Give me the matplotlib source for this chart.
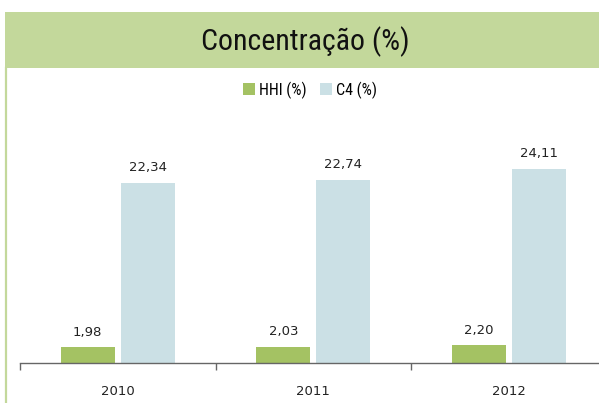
import matplotlib
matplotlib.use("Agg")
import matplotlib.pyplot as plt
from matplotlib.patches import Rectangle
from matplotlib.lines import Line2D

years = ["2010", "2011", "2012"]
hhi = [1.98, 2.03, 2.20]
c4 = [22.34, 22.74, 24.11]
hhi_labels = ["1,98", "2,03", "2,20"]
c4_labels = ["22,34", "22,74", "24,11"]

W, H = 599, 403
fig = plt.figure(figsize=(W / 100, H / 100), dpi=100)

cond = ["Roboto Condensed", "DejaVu Sans"]

# title band
fig.patches.append(Rectangle((5 / W, 1 - 68 / H), 1, 56 / H, transform=fig.transFigure,
                             facecolor="#C3D89B", edgecolor="none", zorder=0))
fig.lines.append(Line2D([6 / W, 6 / W], [0, 1 - 68 / H], transform=fig.transFigure,
                        color="#C3D89B", linewidth=1.6))
fig.text(305 / W, 1 - 42 / H, "Concentração (%)", ha="center", va="center",
         fontsize=21.5, family=cond, color="#111111")

green = "#A4C263"
blue = "#CBE0E5"

px_per_unit = 195.5
left_px = 20
ax = fig.add_axes([left_px / W, (H - 363) / H, 3 * px_per_unit / W, 242 / H])
ax.set_xlim(-0.5, 2.5)
ax.set_ylim(0, 30)

x = range(len(years))
off = 30 / px_per_unit
bw = 54 / px_per_unit
b1 = ax.bar([i - off for i in x], hhi, width=bw, color=green, label="HHI (%)")
b2 = ax.bar([i + off for i in x], c4, width=bw, color=blue, label="C4 (%)")

for rect, lab in zip(b1, hhi_labels):
    ax.annotate(lab, (rect.get_x() + rect.get_width() / 2, rect.get_height()),
                xytext=(0, 6), textcoords="offset points", ha="center", va="bottom",
                fontsize=9.5, color="#222222")
for rect, lab in zip(b2, c4_labels):
    ax.annotate(lab, (rect.get_x() + rect.get_width() / 2, rect.get_height()),
                xytext=(0, 6), textcoords="offset points", ha="center", va="bottom",
                fontsize=9.5, color="#222222")

for s in ["top", "right", "left"]:
    ax.spines[s].set_visible(False)
ax.spines["bottom"].set_color("#666666")
ax.spines["bottom"].set_linewidth(1.0)
ax.set_yticks([])
ax.set_xticks([-0.5, 0.5, 1.5, 2.5])
ax.set_xticklabels([])
ax.tick_params(axis="x", which="major", length=5, color="#666666", width=1.0)
ax.set_xticks(list(x), minor=True)
ax.set_xticklabels(years, minor=True, fontsize=9.5, color="#222222")
ax.tick_params(axis="x", which="minor", length=0, pad=15.5)

fig.legend(handles=[b1, b2], loc="center", bbox_to_anchor=(310 / W, 1 - 90 / H),
           ncol=2, frameon=False, prop={"family": cond, "size": 11.5},
           handlelength=0.75, handleheight=0.75,
           handletextpad=0.3, columnspacing=0.8, borderaxespad=0)

fig.savefig("out.png", dpi=100)
